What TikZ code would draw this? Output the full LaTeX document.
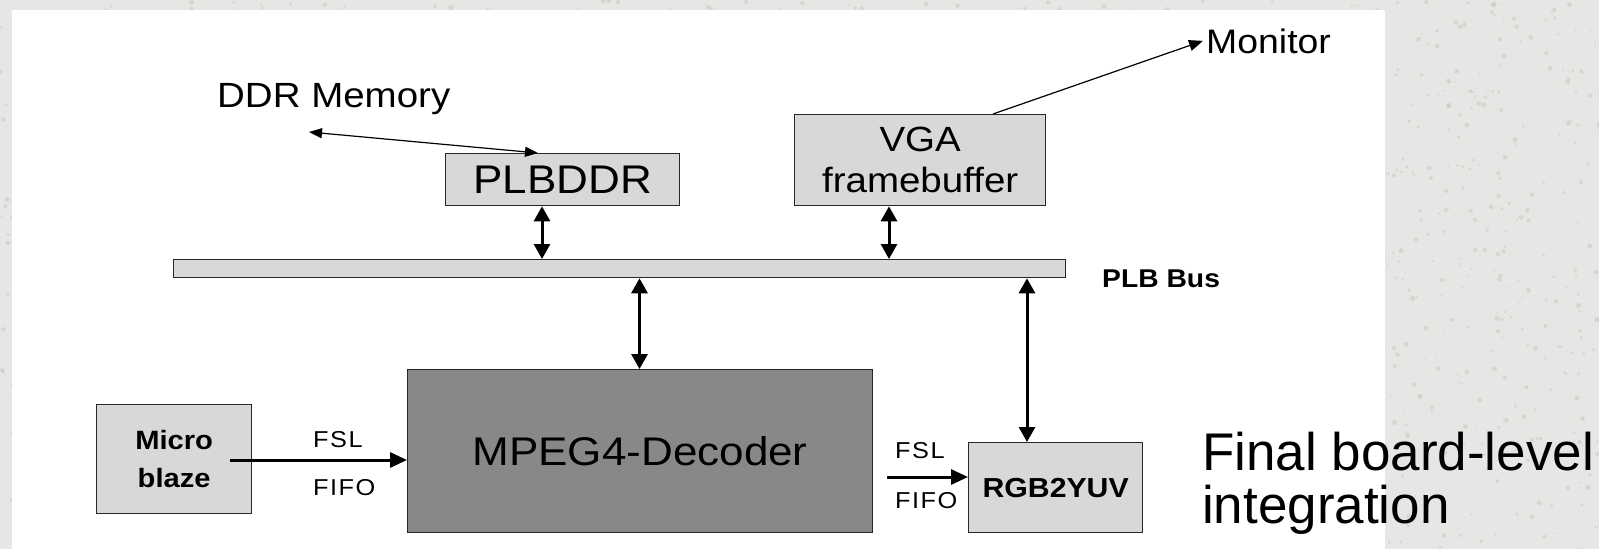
\documentclass[tikz,border=0pt]{standalone}
\usepackage{fontspec}
\setmainfont{Liberation Sans}
\newfontfamily\lblfont[LetterSpace=6]{Liberation Sans}
\usepackage{graphicx}
\usetikzlibrary{arrows.meta,calc}

\definecolor{slidebg}{RGB}{230,230,228}
\definecolor{speck}{RGB}{200,200,197}
\definecolor{blockfill}{RGB}{216,216,216}
\definecolor{corefill}{RGB}{136,136,136}
\definecolor{edgecol}{RGB}{40,40,40}

% diagram lettering is set slightly wide
\newcommand{\wide}[1]{\scalebox{1.1}[1]{#1}}

\begin{document}
\begin{tikzpicture}[x=1pt,y=-1pt,
  block/.style={draw=edgecol, line width=1.3pt, fill=blockfill, inner sep=0pt,
                anchor=north west, align=center},
  txt/.style={inner sep=0pt, anchor=base west},
  busarrow/.style={line width=3pt,
                   {Triangle[length=15pt,width=16pt]}-{Triangle[length=15pt,width=16pt]}},
  fslarrow/.style={line width=3pt, -{Triangle[length=17pt,width=15pt]}},
  thinarrow/.style={line width=1.2pt}
]
\useasboundingbox (0,0) rectangle (1599,549);
% marbled slide background
\fill[slidebg] (0,0) rectangle (1599,549);
\pgfmathsetseed{7}
\foreach \i in {1,...,2600}{
  \pgfmathsetmacro{\px}{rnd*1599}
  \pgfmathsetmacro{\py}{rnd*549}
  \pgfmathsetmacro{\pr}{0.8+rnd*1.8}
  \fill[speck, opacity=0.55] (\px,\py) circle[radius=\pr pt];
}
\fill[white] (12,10) rectangle (1385,549);

% blocks
\node[block, minimum width=234pt, minimum height=52pt,
      font=\fontsize{40}{40}\selectfont] (plbddr) at (445,153) {\wide{PLBDDR}};
\node[block, minimum width=251pt, minimum height=91pt,
      font=\fontsize{35}{41}\selectfont] (vga) at (794,114) {\wide{VGA}\\\wide{framebuffer}};
\node[block, minimum width=892pt, minimum height=18pt] (bus) at (173,259) {};
\node[block, fill=corefill, minimum width=465pt, minimum height=163pt,
      font=\fontsize{40}{40}\selectfont] (mpeg) at (407,369) {\wide{MPEG4-Decoder}};
\node[block, minimum width=155pt, minimum height=109pt,
      font=\bfseries\fontsize{26.5}{38}\selectfont] (mb) at (96,404) {\wide{Micro}\\\wide{blaze}};
\node[block, minimum width=174pt, minimum height=90pt,
      font=\bfseries\fontsize{27.5}{27.5}\selectfont] (rgb) at (968,442) {\wide{RGB2YUV}};

% labels
\node[txt, font=\fontsize{35}{35}\selectfont] (ddr) at (217,107) {\wide{DDR Memory}};
\node[txt, font=\fontsize{34}{34}\selectfont] (mon) at (1206,53) {\wide{Monitor}};
\node[txt, font=\bfseries\fontsize{25.7}{25.7}\selectfont] (plb) at (1102,287) {\wide{PLB Bus}};
\node[txt, font=\lblfont\fontsize{23}{23}\selectfont] (fslA) at (313,447) {\wide{FSL}};
\node[txt, font=\lblfont\fontsize{23}{23}\selectfont] (fifoA) at (313,495) {\wide{FIFO}};
\node[txt, font=\lblfont\fontsize{23}{23}\selectfont] (fslB) at (895,458) {\wide{FSL}};
\node[txt, font=\lblfont\fontsize{23}{23}\selectfont] (fifoB) at (895,508) {\wide{FIFO}};
\node[txt, font=\fontsize{53}{53}\selectfont] (capA) at (1202,470) {Final board-level};
\node[txt, font=\fontsize{53}{53}\selectfont] (capB) at (1202,523) {integration};

% connector positions
\coordinate (xa) at (542,0);
\coordinate (xb) at (889,0);
\coordinate (xc) at (639.5,0);
\coordinate (xd) at (1027,0);
\coordinate (xm) at (993,0);
\coordinate (xr) at (538,0);
\coordinate (ddrend) at (309,132);
\coordinate (mbout) at (230,460);
\coordinate (mpout) at (887,477);

% bus connections
\draw[busarrow] (plbddr.south -| xa) -- (bus.north -| xa);
\draw[busarrow] (vga.south -| xb) -- (bus.north -| xb);
\draw[busarrow] (bus.south -| xc) -- (mpeg.north -| xc);
\draw[busarrow] (bus.south -| xd) -- (rgb.north -| xd);

% external links
\draw[thinarrow, {Triangle[length=13pt,width=10pt]}-{Triangle[length=13pt,width=10pt]}]
  (ddrend) -- (plbddr.north -| xr);
\draw[thinarrow, -{Triangle[length=14pt,width=11pt]}]
  (vga.north -| xm) -- ([xshift=-3pt]mon.west);

% FSL links
\draw[fslarrow] (mbout) -- (mpeg.west |- mbout);
\draw[fslarrow] (mpout) -- (rgb.west |- mpout);
\end{tikzpicture}
\end{document}
